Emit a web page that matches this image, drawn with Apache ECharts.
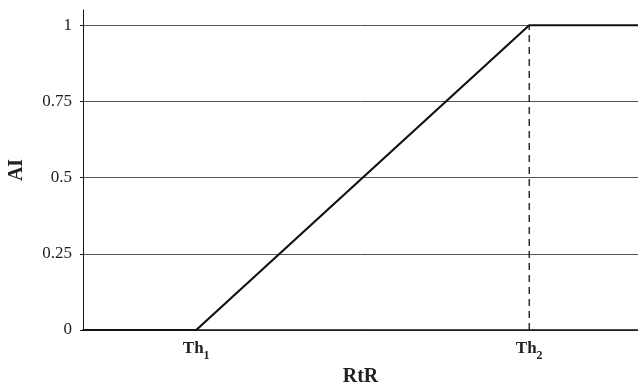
<!DOCTYPE html>
<html><head><meta charset="utf-8">
<script src="https://cdn.jsdelivr.net/npm/echarts@6/dist/echarts.min.js"></script>
<style>html,body{margin:0;padding:0;background:#fff}#c{width:638px;height:382px}</style>
</head><body><div id="c"></div>
<script>
const xValues = [0, 20.4, 80.4, 100];
const aiValues = [0, 0, 1, 1];
const thresholds = [20.4, 80.4];
const thLabels = ['1', '2'];
const yTicks = [0, 0.25, 0.5, 0.75, 1];
const yTickLabels = ['0', '0.25', '0.5', '0.75', '1'];

const chart = echarts.init(document.getElementById('c'), null, {renderer: 'canvas'});
const serif = 'Liberation Serif, Times New Roman, serif';
chart.setOption({
  animation: false,
  grid: {left: 83, right: 0, top: 10, bottom: 52, outerBoundsMode: 'none', containLabel: false},
  xAxis: {
    type: 'value', min: 0, max: 100,
    name: 'RtR', nameLocation: 'middle', nameGap: 23,
    nameTextStyle: {fontFamily: serif, fontWeight: 'bold', fontSize: 20, color: '#222'},
    axisLine: {show: true, lineStyle: {color: '#111', width: 1.5}},
    axisTick: {show: false},
    splitLine: {show: false},
    axisLabel: {
      customValues: thresholds,
      margin: 10,
      formatter: function (v) {
        const i = thresholds.indexOf(v);
        return '{a|Th}{b|' + thLabels[i] + '}';
      },
      rich: {
        a: {fontFamily: serif, fontWeight: 'bold', fontSize: 17, color: '#222', verticalAlign: 'bottom'},
        b: {fontFamily: serif, fontWeight: 'bold', fontSize: 12, color: '#222', verticalAlign: 'bottom', padding: [0,0,-5,0]}
      }
    }
  },
  yAxis: {
    type: 'value', min: 0, max: 1.05, interval: 0.25,
    name: 'AI', nameLocation: 'middle', nameGap: 56, nameRotate: 90,
    nameTextStyle: {fontFamily: serif, fontWeight: 'bold', fontSize: 20, color: '#222'},
    axisLine: {show: true, lineStyle: {color: '#111', width: 1}},
    axisTick: {show: true, length: 3, customValues: yTicks, lineStyle: {color: '#111'}},
    axisLabel: {
      customValues: yTicks, margin: 11,
      fontFamily: serif, fontSize: 17, color: '#222',
      formatter: function (v) { return yTickLabels[yTicks.indexOf(v)]; }
    },
    splitLine: {show: true, lineStyle: {color: '#555', width: 1}}
  },
  series: [
    {
      type: 'line', data: xValues.map((x, i) => [x, aiValues[i]]),
      symbol: 'none', lineStyle: {color: '#111', width: 2.2}, z: 3
    },
    {
      type: 'line', data: [[thresholds[1], aiValues[0]], [thresholds[1], aiValues[2]]],
      symbol: 'none', lineStyle: {color: '#111', width: 1.3, type: [7, 5]}, z: 2
    }
  ]
});
</script></body></html>
